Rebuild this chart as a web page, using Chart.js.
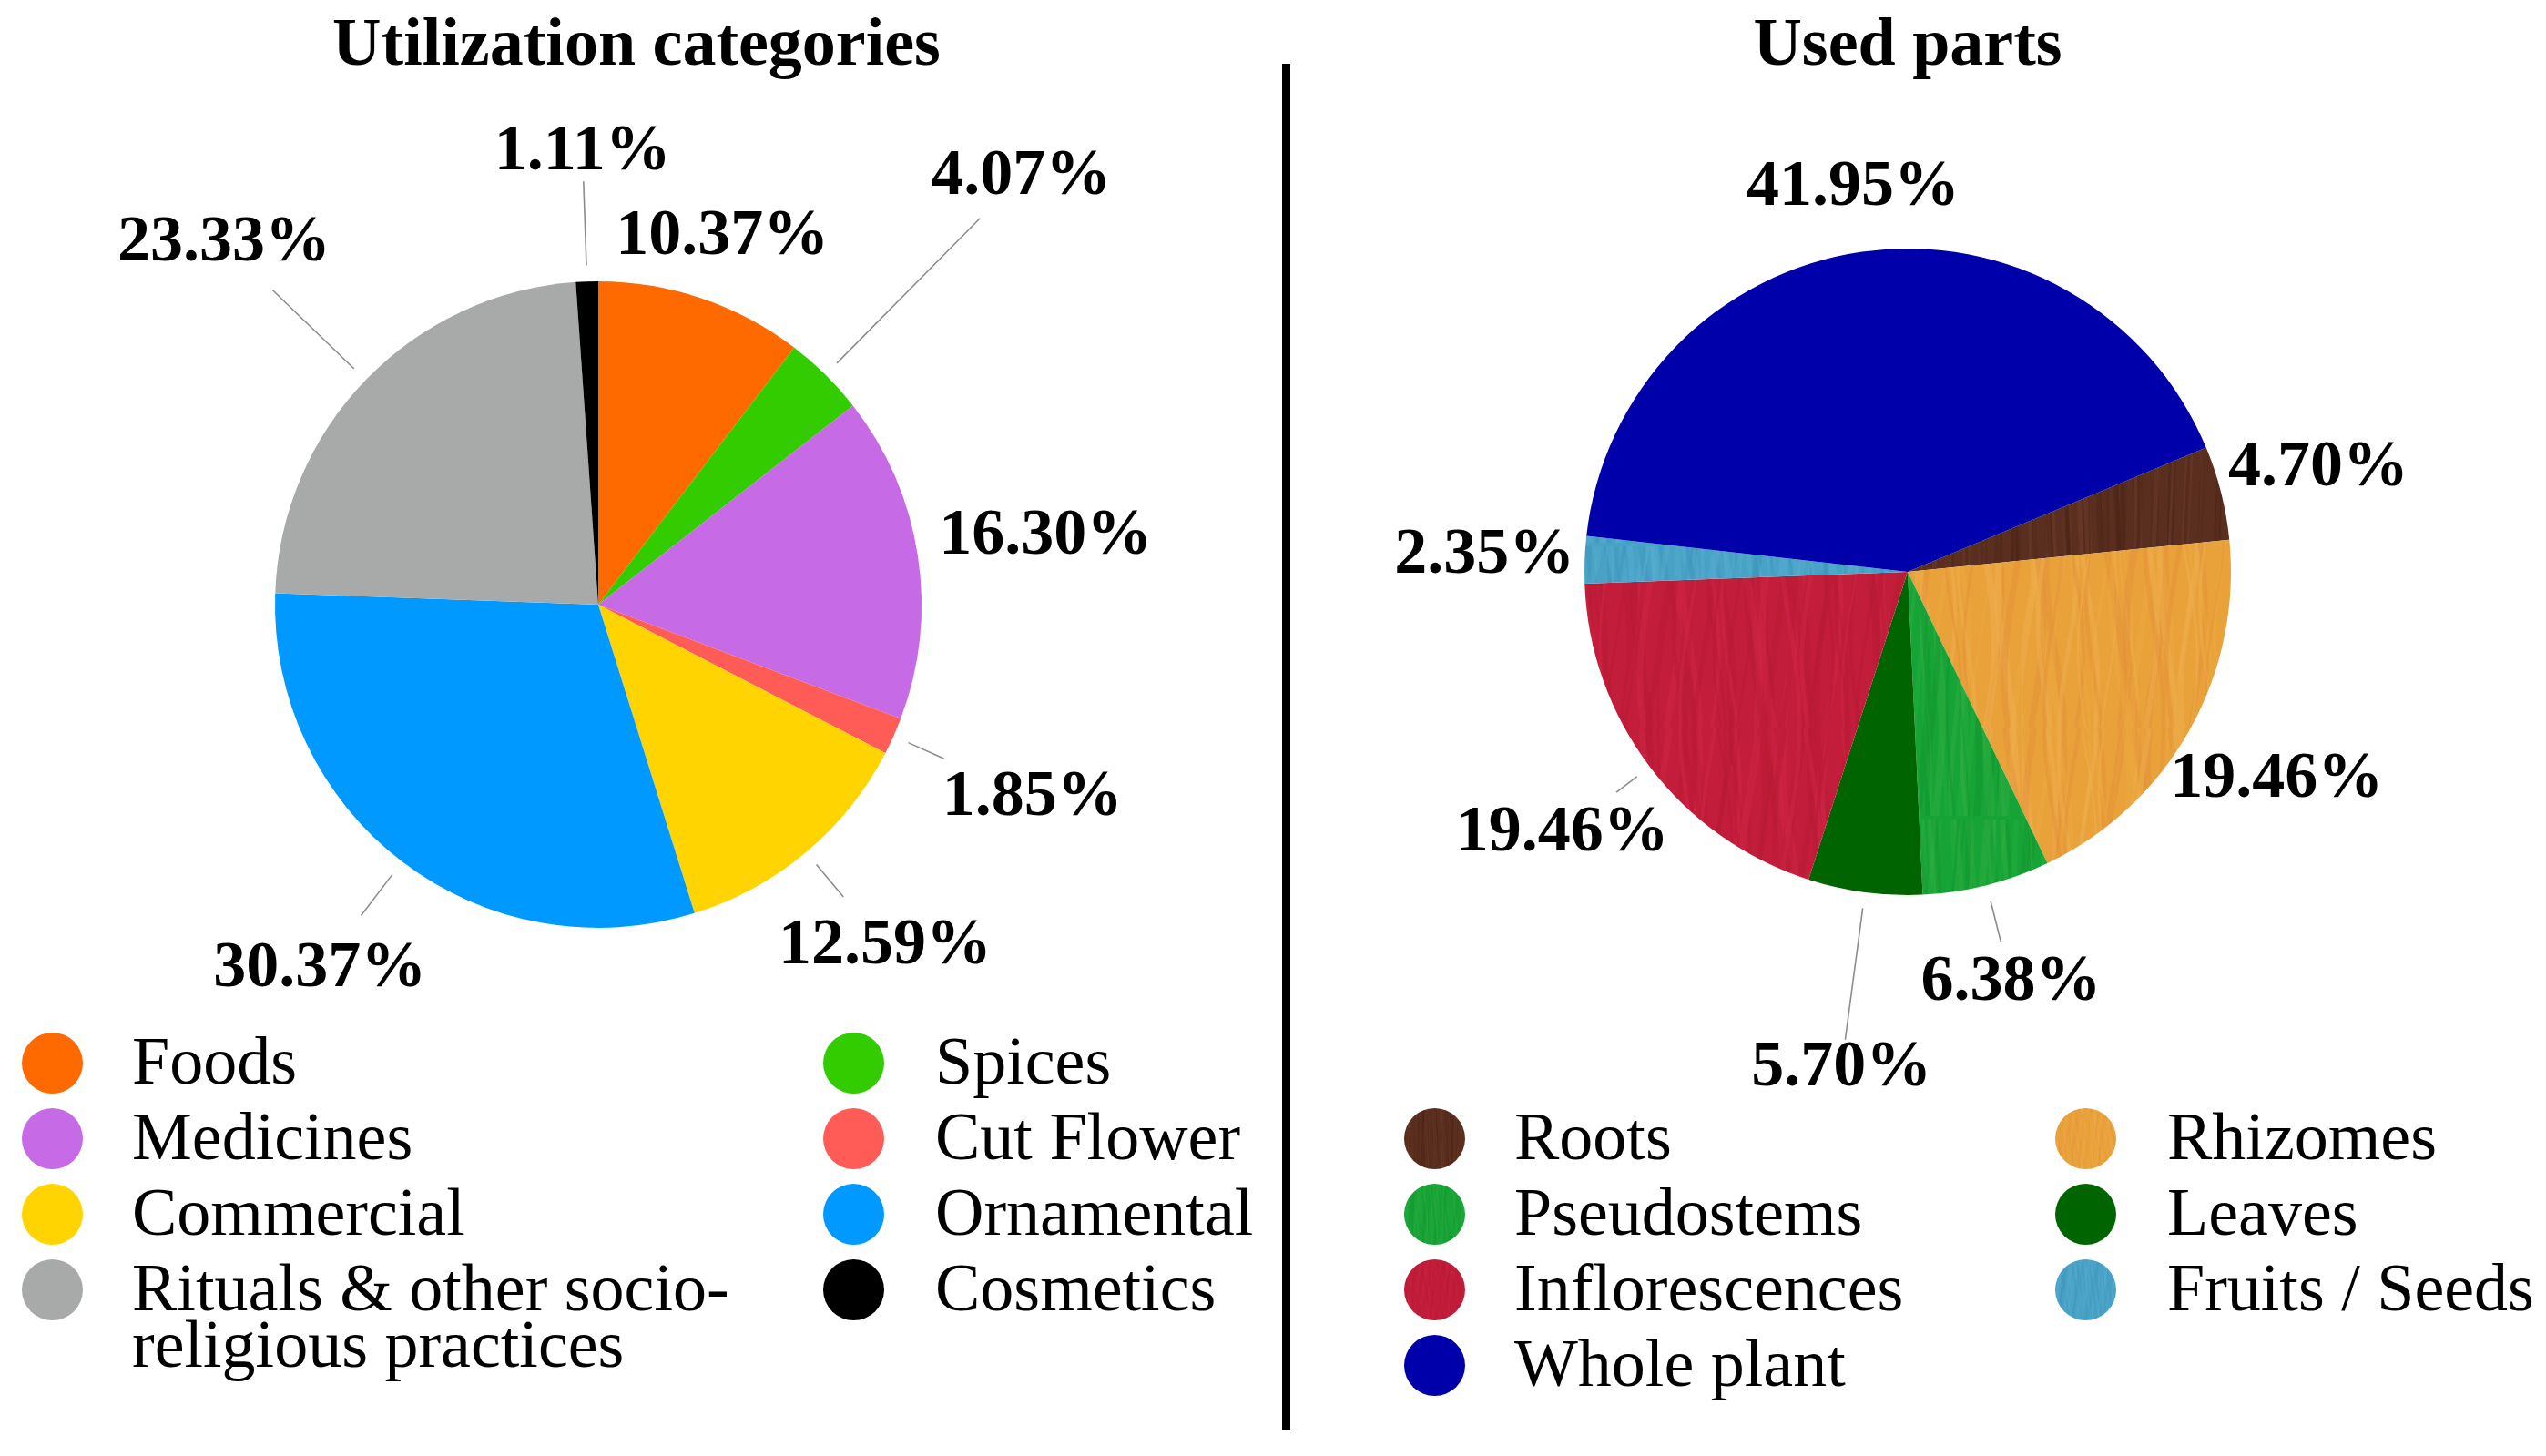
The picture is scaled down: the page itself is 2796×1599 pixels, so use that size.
<!DOCTYPE html>
<html>
<head>
<meta charset="utf-8">
<script src="https://cdn.jsdelivr.net/npm/chart.js@4.4.1/dist/chart.umd.min.js"></script>
<style>
    body { margin: 0; background: #fff; width: 2796px; height: 1599px; position: relative; overflow: hidden; font-family: "Liberation Serif", "Times New Roman", Times, serif; }
    .title { position: absolute; top: 4px; font-weight: bold; font-size: 74px; line-height: 84px; text-align: center; width: 1000px; }
    .box { position: absolute; }
    #divider { position: absolute; left: 1408px; top: 70px; width: 9px; height: 1500px; background: #000; }
    .legend-item { position: absolute; font-size: 74px; line-height: 62px; }
    .legend-item .dot { position: absolute; width: 67px; height: 67px; border-radius: 50%; left: 0; top: 0; background-size: cover; }
    .legend-item .txt { position: absolute; white-space: normal; }
</style>
</head>
<body>

<div class="title" style="left:199px;">Utilization categories</div>
<div class="title" style="left:1595px;">Used parts</div>
<div id="divider"></div>

<div class="box" style="left:0;top:0;width:1400px;height:1599px;"><canvas id="chartUse"></canvas></div>
<div class="box" style="left:1420px;top:0;width:1376px;height:1599px;"><canvas id="chartParts"></canvas></div>

<div id="legendUse"></div>
<div id="legendParts"></div>

<script>
// utilization categories
const useLabels = ["Foods", "Spices", "Medicines", "Cut Flower", "Commercial", "Ornamental", "Rituals & other socio-religious practices", "Cosmetics"];
const useValues = [10.37, 4.07, 16.30, 1.85, 12.59, 30.37, 23.33, 1.11];
const useColors = ["#ff6a00", "#33cc00", "#c76ae6", "#ff5c58", "#ffd400", "#0099ff", "#a8aaa9", "#000000"];

// used parts
const partLabels = ["Roots", "Rhizomes", "Pseudostems", "Leaves", "Inflorescences", "Fruits / Seeds", "Whole plant"];
const partValues = [4.70, 19.46, 6.38, 5.70, 19.46, 2.35, 41.95];
const partColors = ["#5e3222", "#e8a038", "#17a63a", "#006400", "#c41d3b", "#48a3c6", "#0000aa"];

// where the percent labels sit (multiples of the radius), and leader line end (null = no line)
const useLabelDist = [1.2, 1.86, 1.4, 1.47, 1.38, 1.42, 1.61, 1.4];
const useLeaderEnd = [null, 1.68, null, 1.17, 1.18, 1.21, 1.4, 1.31];
const partLabelDist = [1.31, 1.31, 1.31, 1.55, 1.34, 1.31, 1.2];
const partLeaderEnd = [null, null, 1.18, 1.46, 1.13, null, null];

// painted / wood looking fills for the "used parts" slices
function streakTexture(base, streaks, wave, size) {
    const c = document.createElement("canvas");
    c.width = size; c.height = size;
    const g = c.getContext("2d");
    g.fillStyle = base;
    g.fillRect(0, 0, size, size);
    for (let k = 0; k < 60; k++) {
        const x0 = (k * 37) % size;
        g.strokeStyle = streaks[k % streaks.length];
        g.globalAlpha = 0.2 + 0.15 * ((k * 7) % 3);
        g.lineWidth = 2 + (k * 5) % 7;
        g.beginPath();
        for (let y = 0; y <= size; y += 8) {
            const x = x0 + Math.sin(y / 60 + k) * wave;
            if (y === 0) g.moveTo(x, y); else g.lineTo(x, y);
        }
        g.stroke();
    }
    return c;
}

const partTextures = [
    streakTexture("#5a2f1f", ["#3f1d12", "#7a4430", "#4c2618"], 3, 240),
    streakTexture("#e9a13a", ["#f2bb4a", "#e3893a", "#eeb050"], 10, 400),
    streakTexture("#16a436", ["#3dba4c", "#0d8e2c", "#2fae40"], 6, 300),
    null,
    streakTexture("#c21d3a", ["#a8172f", "#d72a4c", "#b81a35"], 10, 400),
    streakTexture("#47a2c6", ["#6cbcd8", "#3a8fb6", "#58acd0"], 10, 300),
    null
];

function partFill(ctx, i) {
    if (!partTextures[i]) return partColors[i];
    return ctx.createPattern(partTextures[i], "repeat");
}

const pctLabels = {
    id: "pctLabels",
    afterDatasetsDraw(chart, args, opts) {
        const ctx = chart.ctx;
        const meta = chart.getDatasetMeta(0);
        const values = chart.data.datasets[0].data;
        ctx.save();
        meta.data.forEach(function(arc, i) {
            const p = arc.getProps(["x", "y", "startAngle", "endAngle", "outerRadius"], true);
            const mid = (p.startAngle + p.endAngle) / 2;
            const r = p.outerRadius;
            const cx = Math.cos(mid), cy = Math.sin(mid);
            if (opts.leaderEnd[i]) {
                ctx.strokeStyle = "#8c8c8c";
                ctx.lineWidth = 1.6;
                ctx.beginPath();
                ctx.moveTo(p.x + cx * r * 1.05, p.y + cy * r * 1.05);
                ctx.lineTo(p.x + cx * r * opts.leaderEnd[i], p.y + cy * r * opts.leaderEnd[i]);
                ctx.stroke();
            }
            ctx.fillStyle = "#000";
            ctx.font = "bold 72px 'Liberation Serif', 'Times New Roman', Times, serif";
            ctx.textAlign = "center";
            ctx.textBaseline = "middle";
            ctx.fillText(values[i].toFixed(2) + "%", p.x + cx * r * opts.dist[i], p.y + cy * r * opts.dist[i]);
        });
        ctx.restore();
    }
};

function makePie(canvasId, labels, values, colors, rotation, padding, dist, leaderEnd) {
    return new Chart(document.getElementById(canvasId), {
        type: "pie",
        data: {
            labels: labels,
            datasets: [{
                data: values,
                backgroundColor: colors,
                borderWidth: 0,
                hoverOffset: 0,
                offset: 0
            }]
        },
        options: {
            responsive: true,
            maintainAspectRatio: false,
            animation: false,
            rotation: rotation,
            layout: { padding: padding },
            plugins: {
                legend: { display: false },
                tooltip: { enabled: false },
                pctLabels: { dist: dist, leaderEnd: leaderEnd }
            }
        },
        plugins: [pctLabels]
    });
}

makePie("chartUse", useLabels, useValues, useColors, 0,
    { left: 302, right: 388, top: 309, bottom: 580 }, useLabelDist, useLeaderEnd);

const partsCtx = document.getElementById("chartParts").getContext("2d");
makePie("chartParts", partLabels, partValues, partColors.map((c, i) => partFill(partsCtx, i)), 67.4,
    { left: 320, right: 346, top: 273, bottom: 616 }, partLabelDist, partLeaderEnd);

function buildLegend(containerId, labels, fills, cols, rowTop, rowStep, textMaxWidth) {
    const container = document.getElementById(containerId);
    labels.forEach(function(label, i) {
        const col = cols[i % 2];
        const row = Math.floor(i / 2);
        const cy = rowTop + row * rowStep;
        const item = document.createElement("div");
        item.className = "legend-item";
        item.style.left = (col.dot - 33) + "px";
        item.style.top = (cy - 33) + "px";
        item.innerHTML = `<div class="dot" style="background:${fills[i]}"></div>
                          <div class="txt" style="left:${col.text - col.dot + 33}px;top:0px;width:${textMaxWidth}px">${label.replace("&", "&amp;")}</div>`;
        container.appendChild(item);
    });
}

const partDotFills = partColors.map(function(c, i) {
    return partTextures[i] ? `url(${partTextures[i].toDataURL()}) center / cover` : c;
});

buildLegend("legendUse", useLabels, useColors,
    [{ dot: 57, text: 145 }, { dot: 937, text: 1027 }], 1167, 83, 720);
buildLegend("legendParts", partLabels, partDotFills,
    [{ dot: 1575, text: 1663 }, { dot: 2290, text: 2380 }], 1250, 83, 720);
</script>
</body>
</html>
